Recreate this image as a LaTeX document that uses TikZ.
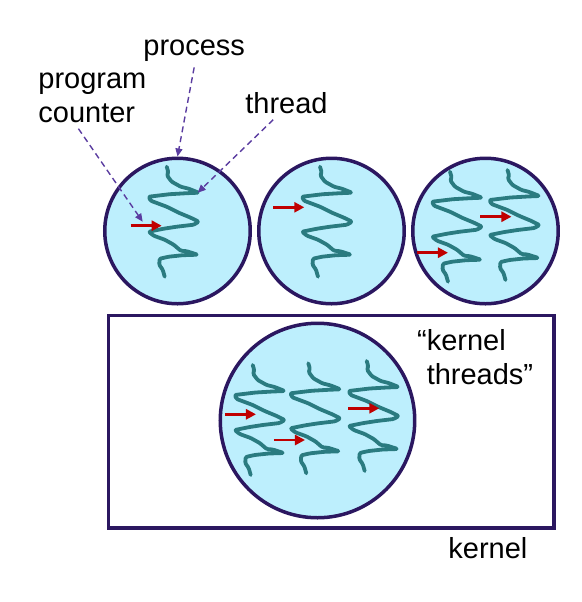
\documentclass[tikz,border=0pt]{standalone}
\usepackage{fontspec}
\setmainfont{Liberation Sans}
\usepackage{tikz}
\usetikzlibrary{positioning, arrows.meta}
\definecolor{procfill}{HTML}{BDEFFD}
\definecolor{procline}{HTML}{2B1760}
\definecolor{threadcol}{HTML}{2A7B80}
\definecolor{pccol}{HTML}{C00000}
\definecolor{notecol}{HTML}{5A3CA0}

\begin{document}
\begin{tikzpicture}[
    x=0.5pt, y=-0.5pt,
    every node/.style={font=\fontsize{14.5}{17}\selectfont},
    proc/.style={circle, draw=procline, fill=procfill, line width=1.75pt, inner sep=0},
    kbox/.style={draw=procline, line width=1.75pt, inner sep=0},
    note/.style={inner xsep=0, inner ysep=3pt, align=left, anchor=base west},
    noteline/.style={notecol, dash pattern=on 3pt off 2pt, line width=0.7pt,
        -{Triangle[length=4pt, width=3.5pt]}},
    threadline/.style={threadcol, line width=1.9pt, rounded corners=0.6pt,
        line cap=round, line join=round},
    pcline/.style={pccol, line width=1.25pt, -{Triangle[length=5pt, width=5pt]}},
    thread/.pic={
        \draw[threadline] (0,0) -- (1.5,5) -- (0.5,9) -- (5,15) -- (14,20) -- (22,22)
          -- (32,26) -- (20,26.5) -- (3,27.5) -- (-18,30) -- (-16,34) -- (0,40)
          -- (12,46) -- (24,51) -- (32,55) -- (27,58) -- (10,60) -- (-3,62)
          -- (-18,65) -- (-13,69) -- (-2,73) -- (7,78) -- (14,84) -- (20,84.5)
          -- (31,88) -- (16,88.5) -- (2,90) -- (-7,92) -- (-7.5,98) -- (-4,103)
          -- (-2,110);
        \coordinate (-tip) at (31,26);
      },
    pc/.pic={
        \draw[pcline] (0,0) -- (31,0);
        \coordinate (-mark) at (12,-4);
      }
  ]
  \useasboundingbox (0,0) rectangle (582,602);

  % processes
  \node[proc, minimum size=72.75pt] (proc1) at (177.5,231) {};
  \node[proc, minimum size=72.75pt, right=2.5pt of proc1] (proc2) {};
  \node[proc, minimum size=72.75pt, right=2.5pt of proc2] (proc3) {};

  % kernel
  \node[kbox, minimum width=222.75pt, minimum height=106.25pt, below=4pt of proc2]
  (kernelbox) {};
  \node[proc, minimum size=97.25pt] (kproc) at (317.5,420.5) {};

  \foreach \x/\y [count=\k] in {166.7/166.7, 320/166.7, 450/171.7, 507.5/170,
      252.7/365, 308.3/363.3, 366.7/361} {
      \pic (t\k) at (\x,\y) {thread};
    }
  \foreach \x/\y [count=\k] in {130.7/225.7, 273.3/207.3, 417/252.7, 480.5/216.7,
      225/414.3, 274/440, 348.3/408.3} {
      \pic (pc\k) at (\x,\y) {pc};
    }

  \node[note] (proclabel) at (143,55) {process};
  \node[note] (pclabel) at (38,122) {program\\counter};
  \node[note] (thrlabel) at (245,113) {thread};
  \node[note] (ktlabel) at (416.7,384) {“kernel\\\phantom{“}threads”};
  \node[note] (klabel) at (448,558) {kernel};

  \draw[noteline] (proclabel.south) -- (proc1.north);
  \draw[noteline] (thrlabel.-128) -- (t1-tip);
  \draw[noteline] (pclabel.-114) -- (pc1-mark);
\end{tikzpicture}
\end{document}
